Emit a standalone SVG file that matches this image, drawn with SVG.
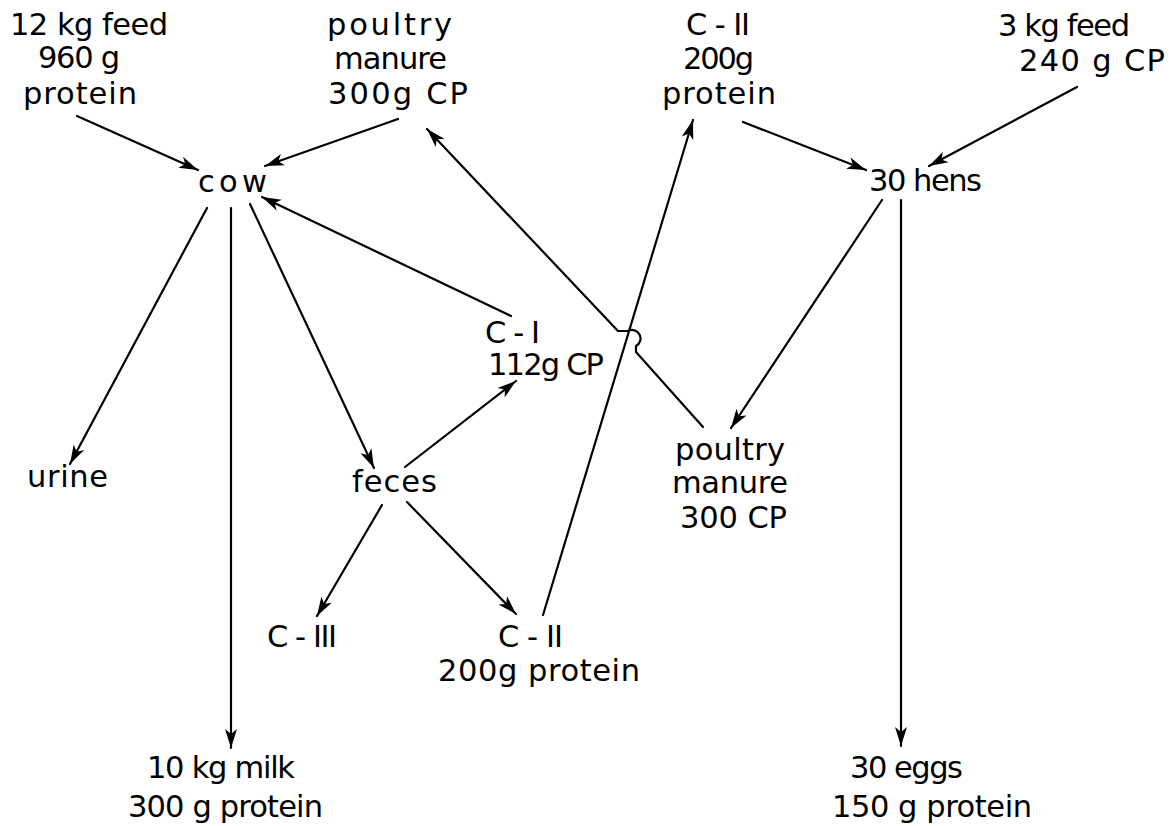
<svg xmlns="http://www.w3.org/2000/svg" width="1173" height="826" viewBox="0 0 1173 826">
  <defs>
    <style>
      text { font-family: "DejaVu Sans", "Liberation Sans", sans-serif; font-size: 30.5px; fill: #000; }
      .link { fill: none; stroke: #000; stroke-width: 2.2; stroke-linecap: round; stroke-linejoin: round; }
    </style>
    <marker id="head" markerUnits="userSpaceOnUse" markerWidth="22" markerHeight="16" refX="19" refY="7" orient="auto" viewBox="0 0 22 16">
      <path d="M19,7 L0,1 L5,7 L0,13 Z" fill="#000"/>
    </marker>
  </defs>
  <rect width="1173" height="826" fill="#fff"/>

  <!-- connectors -->
  <g id="connectors">
    <path class="link" d="M77,116 L198,170" marker-end="url(#head)"/>
    <path class="link" d="M398,119 L265,166" marker-end="url(#head)"/>
    <path class="link" d="M511,316 L262,197" marker-end="url(#head)"/>
    <path class="link" d="M207,208 L70,464" marker-end="url(#head)"/>
    <path class="link" d="M231,208 L231,748" marker-end="url(#head)"/>
    <path class="link" d="M250,204 L374,468" marker-end="url(#head)"/>
    <path class="link" d="M405,467 L516,381" marker-end="url(#head)"/>
    <path class="link" d="M382,505 L317,616" marker-end="url(#head)"/>
    <path class="link" d="M407,502 L516,614" marker-end="url(#head)"/>
    <path class="link" d="M543,615 L693,120" marker-end="url(#head)"/>
    <path class="link" d="M743,122 L866,170" marker-end="url(#head)"/>
    <path class="link" d="M1077,87 L929,166" marker-end="url(#head)"/>
    <path class="link" d="M882,200 L731,428" marker-end="url(#head)"/>
    <path class="link" d="M901,200 L901,746" marker-end="url(#head)"/>
    <!-- manure return line, hopping over the C-II line -->
    <path class="link" d="M703,427 L636,352 L636,346 A8,8 0 0 0 628,331 L618,331 L427,129" marker-end="url(#head)"/>
  </g>

  <g id="feed-cow">
    <text x="10" y="35" textLength="158" lengthAdjust="spacing">12 kg feed</text>
    <text x="38" y="68" textLength="82" lengthAdjust="spacing">960 g</text>
    <text x="23" y="104" textLength="114" lengthAdjust="spacing">protein</text>
  </g>
  <g id="manure-top">
    <text x="327" y="35" textLength="125" lengthAdjust="spacing">poultry</text>
    <text x="334" y="69" textLength="113" lengthAdjust="spacing">manure</text>
    <text x="328" y="104" textLength="140" lengthAdjust="spacing">300g CP</text>
  </g>
  <g id="c2-top">
    <text x="686" y="35" textLength="64" lengthAdjust="spacing">C - II</text>
    <text x="683" y="69" textLength="71" lengthAdjust="spacing">200g</text>
    <text x="662" y="104" textLength="114" lengthAdjust="spacing">protein</text>
  </g>
  <g id="feed-hens">
    <text x="998" y="36" textLength="132" lengthAdjust="spacing">3 kg feed</text>
    <text x="1019" y="71" textLength="146" lengthAdjust="spacing">240 g CP</text>
  </g>
  <g id="hens">
    <text x="869" y="191" textLength="113" lengthAdjust="spacing">30 hens</text>
  </g>
  <g id="cow">
    <text x="198" y="192" textLength="69" lengthAdjust="spacing">cow</text>
  </g>
  <g id="urine">
    <text x="27" y="487" textLength="81" lengthAdjust="spacing">urine</text>
  </g>
  <g id="feces">
    <text x="352" y="492" textLength="85" lengthAdjust="spacing">feces</text>
  </g>
  <g id="c1">
    <text x="485" y="343" textLength="55" lengthAdjust="spacing">C - I</text>
    <text x="488" y="375" textLength="116" lengthAdjust="spacing">112g CP</text>
  </g>
  <g id="manure-bottom">
    <text x="675" y="460" textLength="110" lengthAdjust="spacing">poultry</text>
    <text x="672" y="493" textLength="116" lengthAdjust="spacing">manure</text>
    <text x="680" y="528" textLength="107" lengthAdjust="spacing">300 CP</text>
  </g>
  <g id="c3">
    <text x="267" y="647" textLength="70" lengthAdjust="spacing">C - III</text>
  </g>
  <g id="c2-bottom">
    <text x="498" y="647" textLength="65" lengthAdjust="spacing">C - II</text>
    <text x="438" y="681" textLength="202" lengthAdjust="spacing">200g protein</text>
  </g>
  <g id="milk">
    <text x="147" y="778" textLength="148" lengthAdjust="spacing">10 kg milk</text>
    <text x="128" y="817" textLength="195" lengthAdjust="spacing">300 g protein</text>
  </g>
  <g id="eggs">
    <text x="850" y="778" textLength="113" lengthAdjust="spacing">30 eggs</text>
    <text x="832" y="817" textLength="200" lengthAdjust="spacing">150 g protein</text>
  </g>
</svg>
